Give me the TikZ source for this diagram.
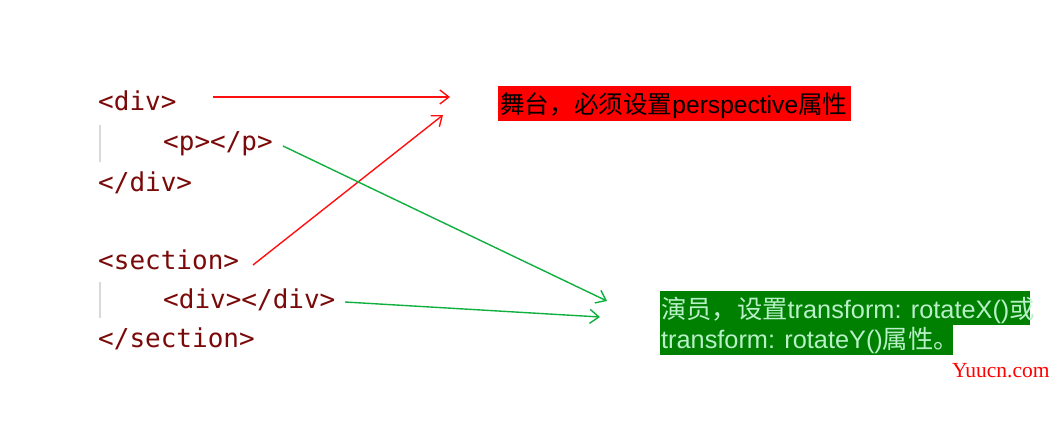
\documentclass[tikz,border=0pt]{standalone}
\usepackage{fontspec}
\setmainfont{Liberation Sans}
\newfontfamily\cjk{Noto Sans CJK SC}
\newfontfamily\codefont{DejaVu Sans Mono}
\newfontfamily\wmfont{Liberation Serif}
\usetikzlibrary{arrows.meta}
\definecolor{codered}{HTML}{7A0A0A}
\definecolor{arrred}{HTML}{FF1010}
\definecolor{arrgreen}{HTML}{10B040}
\definecolor{boxgreen}{HTML}{008000}
\definecolor{lightgreen}{HTML}{B8F0C8}
\tikzset{
  code/.style={anchor=base west, inner sep=0pt, text=codered, font=\codefont\fontsize{26}{30}\selectfont},
  redarrow/.style={draw=arrred, line width=1.4pt, -{Straight Barb[length=9pt,width=14pt,line width=1.4pt]}},
  greenarrow/.style={draw=arrgreen, line width=1.4pt, -{Straight Barb[length=9pt,width=14pt,line width=1.4pt]}},
  guide/.style={draw=black!15, line width=1.5pt},
  lbl/.style={anchor=base west, inner sep=0pt},
}
\begin{document}
\begin{tikzpicture}[x=1pt,y=-1pt]
\useasboundingbox (0,0) rectangle (1063,425);
\fill[white] (0,0) rectangle (1063,425);
% code lines
\node[code] (l1) at (98,111) {<div>};
\node[code] (l2) at (163,151) {<p></p>};
\node[code] (l3) at (98,191) {</div>};
\node[code] (l4) at (98,269) {<section>};
\node[code] (l5) at (163,308) {<div></div>};
\node[code] (l6) at (98,347) {</section>};
\draw[guide] (100,125) -- (100,162);
\draw[guide] (100,282) -- (100,318);
% red box
\fill[red] (498,86) rectangle (851,121);
\node[lbl, font=\fontsize{24.6}{30}\selectfont] (stage) at (500,114) {{\cjk 舞台，必须设置}perspective{\cjk 属性}};
% green box
\fill[boxgreen] (660,291) rectangle (1030,325);
\fill[boxgreen] (660,325) rectangle (953,355);
\node[lbl, text=lightgreen, font=\fontsize{25.3}{30}\selectfont] (actor1) at (661,318) {{\cjk 演员，设置}transform: rotateX(){\cjk 或}};
\node[lbl, text=lightgreen, font=\fontsize{25.3}{30}\selectfont] (actor2) at (661,348) {transform: rotateY(){\cjk 属性。}};
% watermark
\node[lbl, text=red, font=\wmfont\fontsize{21.5}{24}\selectfont] (wm) at (952,377) {Yuucn.com};
% arrow coordinates
\coordinate (a1s) at (213,97);
\coordinate (a1e) at (450,97);
\coordinate (a2s) at (253,265);
\coordinate (a2e) at (443,115);
\coordinate (g1s) at (283,146);
\coordinate (g1e) at (607,301);
\coordinate (g2s) at (345,302);
\coordinate (g2e) at (600,317);
\draw[redarrow] (a1s) -- (a1e);
\draw[redarrow] (a2s) -- (a2e);
\draw[greenarrow] (g1s) -- (g1e);
\draw[greenarrow] (g2s) -- (g2e);
\end{tikzpicture}
\end{document}
